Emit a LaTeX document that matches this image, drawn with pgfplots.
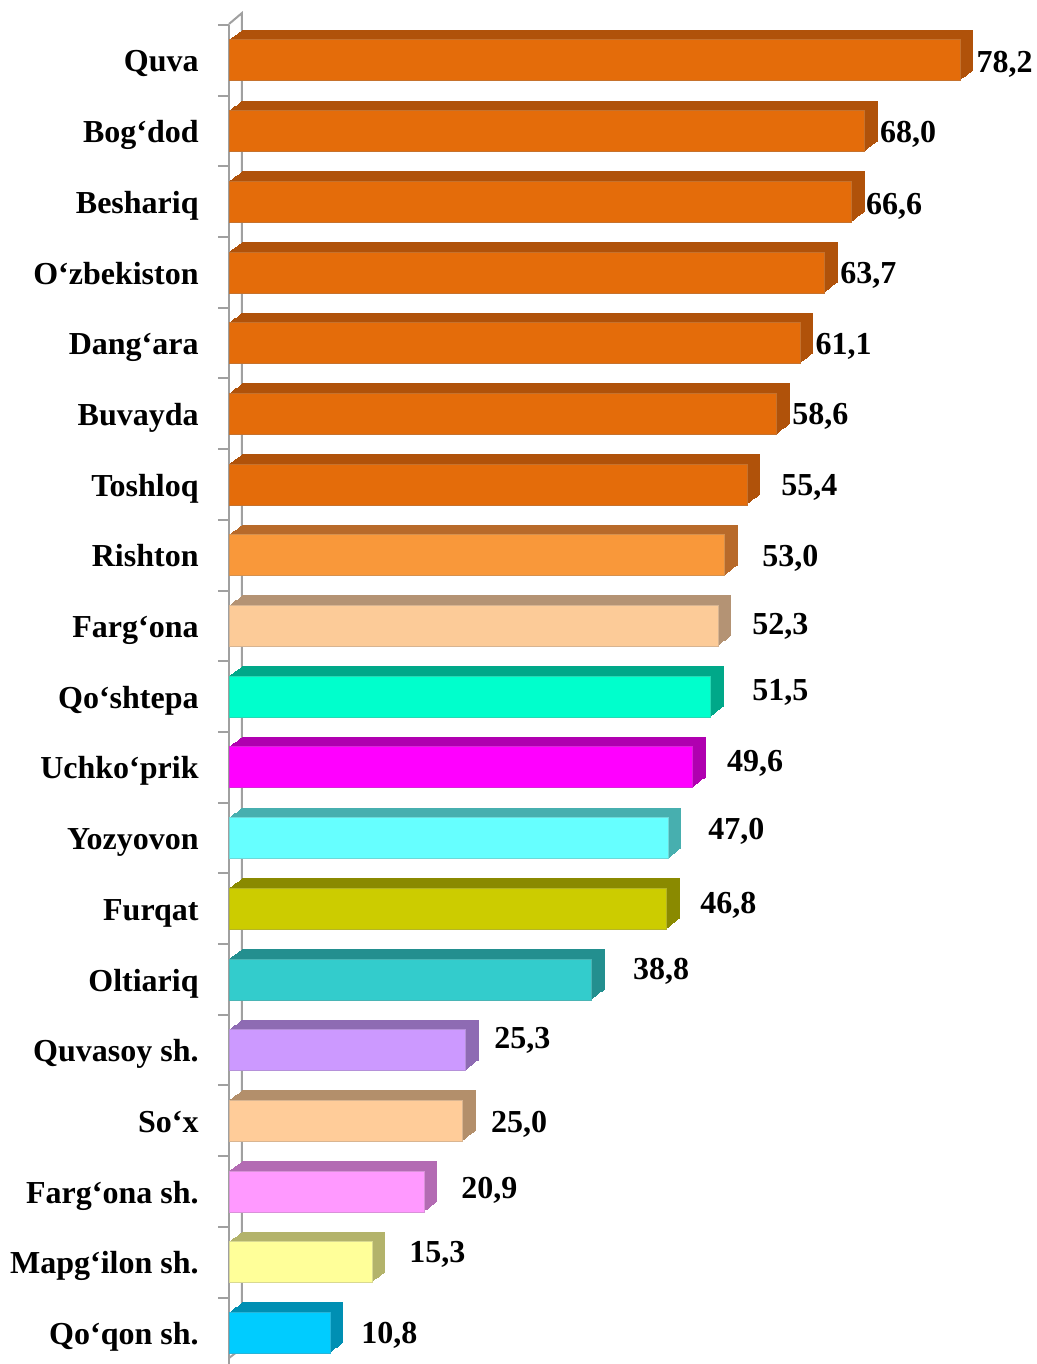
\documentclass[border=0pt]{standalone}
\usepackage{fontspec}
\setmainfont{Liberation Serif}
\usepackage{pgfplots}
\pgfplotsset{compat=1.18}
\definecolor{orF}{HTML}{E46C0A}\definecolor{orS}{HTML}{B0520A}
\definecolor{riF}{HTML}{F9983A}\definecolor{riS}{HTML}{B86A2A}
\definecolor{fgF}{HTML}{FCCB98}\definecolor{fgS}{HTML}{B49374}
\definecolor{qsF}{HTML}{00FFCC}\definecolor{qsS}{HTML}{00A889}
\definecolor{ucF}{HTML}{FF00FF}\definecolor{ucS}{HTML}{B000B0}
\definecolor{yoF}{HTML}{66FFFF}\definecolor{yoS}{HTML}{47AFAF}
\definecolor{fuF}{HTML}{CCCC00}\definecolor{fuS}{HTML}{8A8A00}
\definecolor{olF}{HTML}{33CCCC}\definecolor{olS}{HTML}{238F8F}
\definecolor{qvF}{HTML}{CC99FF}\definecolor{qvS}{HTML}{8E6BB3}
\definecolor{soF}{HTML}{FFCC99}\definecolor{soS}{HTML}{B38F6B}
\definecolor{fsF}{HTML}{FF99FF}\definecolor{fsS}{HTML}{B36BB3}
\definecolor{maF}{HTML}{FFFF99}\definecolor{maS}{HTML}{B3B36B}
\definecolor{qqF}{HTML}{00CCFF}\definecolor{qqS}{HTML}{008FB3}
\definecolor{axg}{HTML}{A0A0A0}
\newcommand\lbl{\fontsize{16bp}{19bp}\selectfont\bfseries}
\newcommand\tdbar[6]{%
 \pgfplotsinvokeforeach{12,11,...,1}{%
   \addplot[xbar, bar shift=0pt, bar width=20.5bp, fill=#4, draw=none, xshift={##1*0.54167bp}, yshift={##1*0.41667bp}] coordinates {(#1,#2)};
 }%
 \addplot[xbar, bar shift=0pt, bar width=20.5bp, fill=#3, draw=#3!70!gray, line width=0.4bp,
   point meta=x, nodes near coords,
   nodes near coords style={anchor=west, inner sep=0pt, xshift=#5, yshift=#6, yshift=-1.1bp, font=\lbl, text=black,
     /pgf/number format/.cd, fixed, fixed zerofill, precision=1, use comma, assume math mode=true}]
   coordinates {(#1,#2)};
}
\begin{document}
\begin{tikzpicture}
\begin{axis}[
  name=ax,
  scale only axis,
  width=397.375bp, height=669.5bp,
  xmin=0, xmax=85,
  ymin=-0.5, ymax=18.44,
  y dir=reverse,
  clip=false,
  axis x line=none,
  axis y line*=left,
  y axis line style={axg, line width=1bp},
  ytick={0,...,18},
  yticklabels={Quva,Bog‘dod,Beshariq,O‘zbekiston,Dang‘ara,Buvayda,Toshloq,Rishton,Farg‘ona,Qo‘shtepa,Uchko‘prik,Yozyovon,Furqat,Oltiariq,Quvasoy sh.,So‘x,Farg‘ona sh.,Mapg‘ilon sh.,Qo‘qon sh.},
  minor ytick={-0.5,0.5,...,17.5},
  major tick length=0pt,
  minor tick length=5.5bp,
  tick align=outside,
  minor tick style={axg, line width=1bp},
  yticklabel style={font=\lbl, inner sep=0pt, anchor=base east, xshift=-15bp, yshift=-5.8bp},
]
\draw[axg, line width=1bp] ([xshift=0bp,yshift=0.5bp]axis description cs:0,1) -- ++(6.5bp,5.5bp) -- ([xshift=6.5bp,yshift=8bp]axis description cs:0,0) -- ([yshift=3bp]axis description cs:0,0);
\tdbar{78.2}{0}{orF}{orS}{8bp}{-1bp}
\tdbar{68.0}{1}{orF}{orS}{7.5bp}{-0.5bp}
\tdbar{66.6}{2}{orF}{orS}{7bp}{-1bp}
\tdbar{63.7}{3}{orF}{orS}{7.7bp}{-0.5bp}
\tdbar{61.1}{4}{orF}{orS}{7.5bp}{-0.5bp}
\tdbar{58.6}{5}{orF}{orS}{7.5bp}{0bp}
\tdbar{55.4}{6}{orF}{orS}{17bp}{-0.5bp}
\tdbar{53.0}{7}{riF}{riS}{18.7bp}{-0.5bp}
\tdbar{52.3}{8}{fgF}{fgS}{17bp}{1bp}
\tdbar{51.5}{9}{qsF}{qsS}{20.75bp}{3bp}
\tdbar{49.6}{10}{ucF}{ucS}{17bp}{3bp}
\tdbar{47.0}{11}{yoF}{yoS}{19.75bp}{4.5bp}
\tdbar{46.8}{12}{fuF}{fuS}{16.7bp}{3bp}
\tdbar{38.8}{13}{olF}{olS}{20.5bp}{5bp}
\tdbar{25.3}{14}{qvF}{qvS}{14.2bp}{6bp}
\tdbar{25.0}{15}{soF}{soS}{14bp}{-0.5bp}
\tdbar{20.9}{16}{fsF}{fsS}{18.3bp}{1.5bp}
\tdbar{15.3}{17}{maF}{maS}{18.5bp}{5bp}
\tdbar{10.8}{18}{qqF}{qqS}{15.5bp}{0bp}
\end{axis}
\pgfresetboundingbox
\path[use as bounding box] ([xshift=-114.5bp]ax.south west) rectangle ([xshift=404bp,yshift=12.5bp]ax.north west);
\end{tikzpicture}
\end{document}
